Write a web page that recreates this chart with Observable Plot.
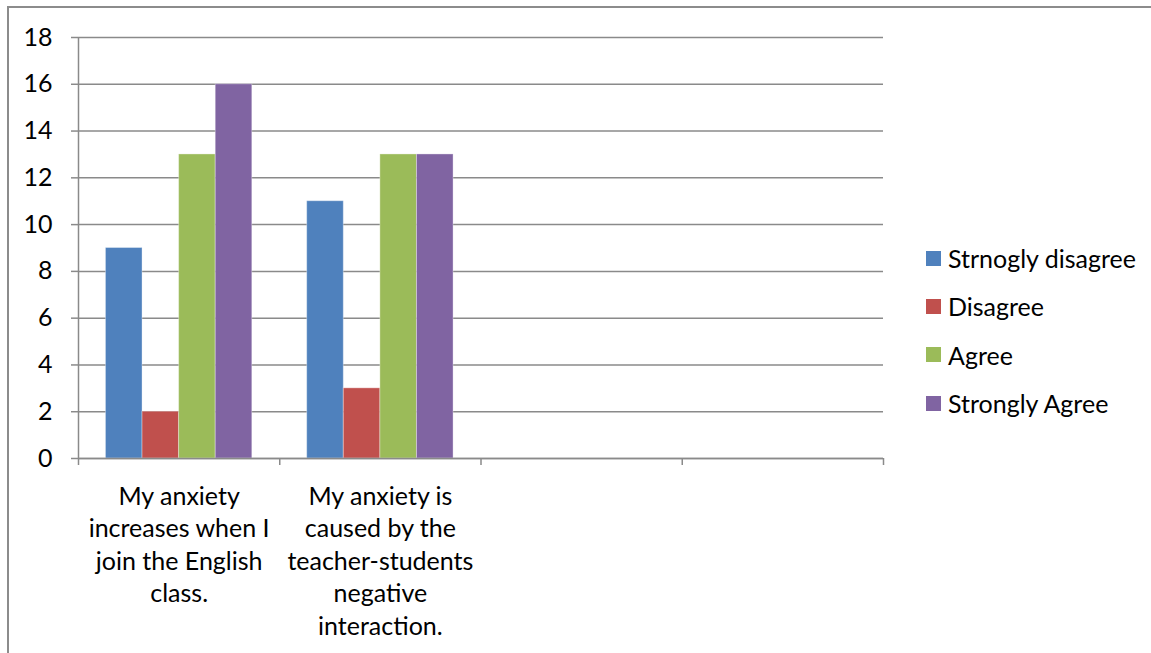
<!DOCTYPE html>
<html>
<head>
<meta charset="utf-8">
<script src="https://cdn.jsdelivr.net/npm/d3@7"></script>
<script src="https://cdn.jsdelivr.net/npm/@observablehq/plot@0.6"></script>
<style>
  html, body { margin: 0; padding: 0; background: #fff; }
  #wrap { position: relative; width: 1151px; height: 653px; overflow: hidden; background: #fff;
          font-family: Lato, "Open Sans", sans-serif; }
  #border { position: absolute; left: 7px; top: 6px; right: -4px; bottom: -4px;
            border-top: 2px solid #8c8c8c; border-left: 2px solid #8c8c8c; }
  #chart { position: absolute; left: 0; top: 0; }
  #legend { position: absolute; left: 926px; top: 234px; }
  .item { display: flex; align-items: center; height: 48.3px; font-size: 25px; color: #000; white-space: nowrap; }
  .sw { width: 15px; height: 15px; margin-right: 7px; flex: none; }
</style>
</head>
<body>
<div id="wrap"><div id="border"></div><div id="chart"></div><div id="legend"></div></div>
<script>
// ---- data ----
const categories = [
  "My anxiety increases when I join the English class.",
  "My anxiety is caused by the teacher-students negative interaction.",
  "",
  ""
];
const categoryLabels = [
  "My anxiety\nincreases when I\njoin the English\nclass.",
  "My anxiety is\ncaused by the\nteacher-students\nnegative\ninteraction.",
  "",
  ""
];
const series = ["Strnogly disagree", "Disagree", "Agree", "Strongly Agree"];
const stronglyDisagree = [9, 11];
const disagree = [2, 3];
const agree = [13, 13];
const stronglyAgree = [16, 13];
const yTicks = [0, 2, 4, 6, 8, 10, 12, 14, 16, 18];
const colors = ["#4f81bd", "#c0504d", "#9bbb59", "#8064a2"];
const gapWidth = 1.5; // Excel gap width 150%

// ---- build table ----
const valuesBySeries = [stronglyDisagree, disagree, agree, stronglyAgree];
const n = series.length;
const data = [];
valuesBySeries.forEach((vals, si) => {
  vals.forEach((v, ci) => {
    const x1 = ci + (gapWidth / 2 + si) / (n + gapWidth);
    data.push({series: series[si], category: categories[ci], value: v, x1, x2: x1 + 1 / (n + gapWidth)});
  });
});

const grey = "#8a8a8a";
const chart = Plot.plot({
  width: 1151,
  height: 653,
  marginLeft: 78,
  marginRight: 268,
  marginTop: 37,
  marginBottom: 195,
  style: {fontFamily: "Lato, 'Open Sans', sans-serif", background: "transparent", color: "#000", overflow: "visible"},
  x: {domain: [0, categories.length], axis: null, label: null},
  y: {domain: [0, 18], axis: null, label: null},
  color: {domain: series, range: colors},
  marks: [
    Plot.gridY(yTicks, {stroke: grey, strokeOpacity: 1, strokeWidth: 1.5}),
    Plot.rectY(data, {x1: "x1", x2: "x2", y: "value", fill: "series", stroke: "#fff", strokeOpacity: 0.35, strokeWidth: 1}),
    Plot.ruleY([0], {stroke: grey, strokeWidth: 1.5}),
    Plot.ruleX([0], {stroke: grey, strokeWidth: 1.5}),
    Plot.axisY(yTicks, {tickSize: 7, tickPadding: 19, fontSize: 25, stroke: grey, strokeWidth: 1.5, fill: "#000", label: null, tickFormat: d => String(d)}),
    Plot.axisX(d3.range(categories.length + 1), {tickSize: 7, tickFormat: () => "", stroke: grey, strokeWidth: 1.5, label: null}),
    Plot.axisX(categories.map((_, i) => i + 0.5), {
      tickSize: 0, tickPadding: 23, fontSize: 25, lineHeight: 1.3, fill: "#000", label: null,
      tickFormat: d => categoryLabels[Math.floor(d)]
    })
  ]
});
document.getElementById("chart").appendChild(chart);

// ---- legend ----
const legend = d3.select("#legend");
series.forEach((s, i) => {
  const it = legend.append("div").attr("class", "item");
  it.append("div").attr("class", "sw").style("background", colors[i]);
  it.append("span").text(s);
});
</script>
</body>
</html>
